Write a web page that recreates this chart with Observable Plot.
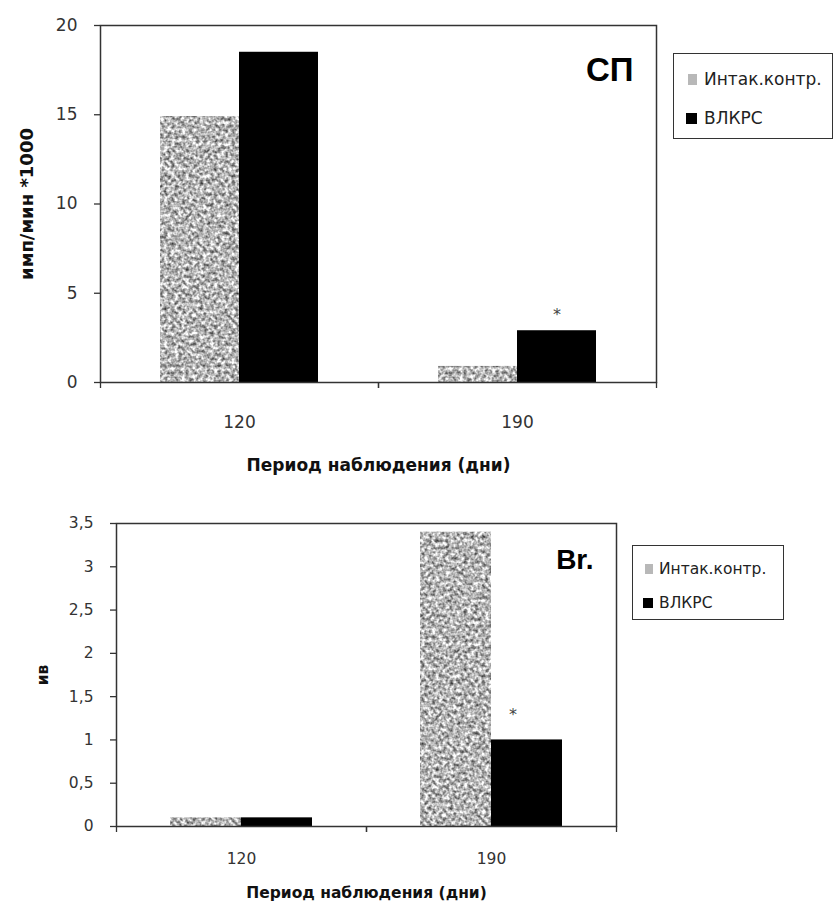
<!DOCTYPE html>
<html>
<head>
<meta charset="utf-8">
<script src="https://cdn.jsdelivr.net/npm/d3@7"></script>
<script src="https://cdn.jsdelivr.net/npm/@observablehq/plot@0.6"></script>
<style>
  body { margin: 0; background: #fff; }
  #root { position: relative; width: 835px; height: 908px; overflow: hidden; font-family: "DejaVu Sans", sans-serif; background: #fff; }
  .chart { position: absolute; left: 0; }
  .legend { position: absolute; border: 1.5px solid #333; background: #fff; box-sizing: border-box; }
  .legend .item { position: absolute; display: flex; align-items: center; white-space: nowrap; color: #222; transform: translateY(-50%); }
  #top [aria-label="y-axis label"] { font-weight: bold; font-size: 18px; fill: #111; }
  #top [aria-label="fx-axis label"] { font-weight: bold; font-size: 17px; fill: #111; }
  #bottom [aria-label="y-axis label"], #bottom [aria-label="fx-axis label"] { font-weight: bold; font-size: 15.5px; fill: #111; }
</style>
</head>
<body>
<svg width="0" height="0" style="position:absolute">
  <defs>
    <filter id="noiseF" filterUnits="userSpaceOnUse" x="0" y="0" width="400" height="400" color-interpolation-filters="sRGB">
      <feTurbulence type="fractalNoise" baseFrequency="0.28" numOctaves="2" seed="7" result="n"/>
      <feColorMatrix in="n" type="matrix" values="1.3 0 0 0 0.06  1.3 0 0 0 0.06  1.3 0 0 0 0.06  0 0 0 0 1"/>
    </filter>
    <pattern id="granite" patternUnits="userSpaceOnUse" width="400" height="400">
      <rect width="400" height="400" fill="#b0b0b0" filter="url(#noiseF)"/>
    </pattern>
  </defs>
</svg>
<div id="root"></div>
<script>
// ---- data ----
const periods = ["120", "190"];
const series = ["Интак.контр.", "ВЛКРС"];
const seriesFill = ["url(#granite)", "#000000"];
const xTitle = "Период наблюдения (дни)";

const spTitle = "СП";
const spYLabel = "имп/мин *1000";
const spControl = [14.9, 0.9];
const spVlkrs = [18.5, 2.9];
const spSig = ["", "*"];
const spTicks = [0, 5, 10, 15, 20];

const brTitle = "Br.";
const brYLabel = "ив";
const brControl = [0.1, 3.4];
const brVlkrs = [0.1, 1.0];
const brSig = ["", "*"];
const brTicks = [0, 0.5, 1, 1.5, 2, 2.5, 3, 3.5];

function rows(ctrl, vlk, sig) {
  return periods.flatMap((p, i) => [
    {period: p, series: series[0], value: ctrl[i], sig: ""},
    {period: p, series: series[1], value: vlk[i], sig: sig[i]}
  ]);
}
const fmt = d => String(d).replace(".", ",");

function makeChart(o) {
  const bw = (o.width - o.ml - o.mr) / periods.length;
  return Plot.plot({
    width: o.width, height: o.height,
    marginLeft: o.ml, marginRight: o.mr, marginTop: o.mt, marginBottom: o.mb,
    style: {color: "#333", fontFamily: "DejaVu Sans", fontSize: o.tickFont + "px", background: "transparent"},
    fx: {domain: periods, padding: 0, axis: null},
    x: {domain: series, paddingInner: 0, paddingOuter: 0.75, axis: null},
    y: {domain: [0, o.ticks[o.ticks.length - 1]], axis: null},
    color: {type: "ordinal", domain: series, range: seriesFill},
    marks: [
      Plot.barY(o.data, {fx: "period", x: "series", y: "value", fill: "series"}),
      Plot.text(o.data, {fx: "period", x: "series", y: "value", text: "sig", dy: o.sigDy, dx: o.sigDx, fontSize: 16, fill: "#444", lineAnchor: "middle"}),
      Plot.frame({facet: "super", stroke: "#333", strokeWidth: 1.5}),
      Plot.axisY({ticks: o.ticks, tickSize: 6, tickPadding: 17, tickFormat: fmt, label: o.yLabel, labelAnchor: "center", labelOffset: o.yLabelOffset, labelArrow: "none", strokeWidth: 1.3}),
      Plot.axisFx({anchor: "bottom", tickSize: 0, tickPadding: o.fxPad, label: xTitle, labelAnchor: "center", labelOffset: o.fxLabelOffset, labelArrow: "none"}),
      Plot.axisFx({anchor: "bottom", tickSize: 6, tickFormat: () => "", label: null, dx: -bw / 2, strokeWidth: 1.3}),
      Plot.axisFx({anchor: "bottom", tickSize: 6, tickFormat: () => "", label: null, dx: bw / 2, strokeWidth: 1.3}),
      Plot.text([o.title], {facet: "super", frameAnchor: "top-right", dx: o.titleDx, dy: o.titleDy, lineAnchor: "middle", fontSize: o.titleFont, fontWeight: "bold", fontFamily: "Liberation Sans", fill: "#000"})
    ]
  });
}

function makeLegend(o) {
  const lg = document.createElement("div");
  lg.className = "legend";
  Object.assign(lg.style, {left: o.left + "px", top: o.top + "px", width: o.w + "px", height: o.h + "px", fontSize: o.font + "px"});
  series.forEach((s, i) => {
    const it = document.createElement("div");
    it.className = "item";
    it.style.left = o.swLeft + "px";
    it.style.top = o.rowY[i] + "px";
    const sw = document.createElementNS("http://www.w3.org/2000/svg", "svg");
    const w = i === 0 ? o.sw - 2 : o.sw;
    sw.setAttribute("width", o.sw); sw.setAttribute("height", o.sw);
    sw.style.marginRight = o.gap + "px";
    const r = document.createElementNS("http://www.w3.org/2000/svg", "rect");
    r.setAttribute("x", o.sw - w); r.setAttribute("width", w); r.setAttribute("height", o.sw);
    r.setAttribute("fill", i === 0 ? "#b8b8b8" : seriesFill[i]);
    sw.appendChild(r);
    it.appendChild(sw);
    const t = document.createElement("span");
    t.textContent = s;
    it.appendChild(t);
    lg.appendChild(it);
  });
  return lg;
}

const root = document.getElementById("root");

const topDiv = document.createElement("div");
topDiv.id = "top"; topDiv.className = "chart"; topDiv.style.top = "0px";
topDiv.appendChild(makeChart({
  data: rows(spControl, spVlkrs, spSig), ticks: spTicks, yLabel: spYLabel, title: spTitle,
  width: 680, height: 490, ml: 100, mr: 24, mt: 25, mb: 108,
  tickFont: 17, yLabelOffset: 80, fxPad: 33, fxLabelOffset: 88,
  sigDy: -16, sigDx: 0, titleDx: -23, titleDy: 45, titleFont: 33
}));
root.appendChild(topDiv);

const botDiv = document.createElement("div");
botDiv.id = "bottom"; botDiv.className = "chart"; botDiv.style.top = "500px";
botDiv.appendChild(makeChart({
  data: rows(brControl, brVlkrs, brSig), ticks: brTicks, yLabel: brYLabel, title: brTitle,
  width: 640, height: 408, ml: 116, mr: 24, mt: 23, mb: 82,
  tickFont: 15.5, yLabelOffset: 80, fxPad: 26, fxLabelOffset: 71,
  sigDy: -25, sigDx: -14, titleDx: -23, titleDy: 37, titleFont: 28
}));
root.appendChild(botDiv);

root.appendChild(makeLegend({left: 673, top: 53, w: 160, h: 86, font: 17, swLeft: 12, rowY: [25, 64], sw: 11, gap: 7}));
root.appendChild(makeLegend({left: 632, top: 545, w: 152, h: 75, font: 15.5, swLeft: 10, rowY: [23, 57], sw: 10, gap: 6}));
</script>
</body>
</html>
